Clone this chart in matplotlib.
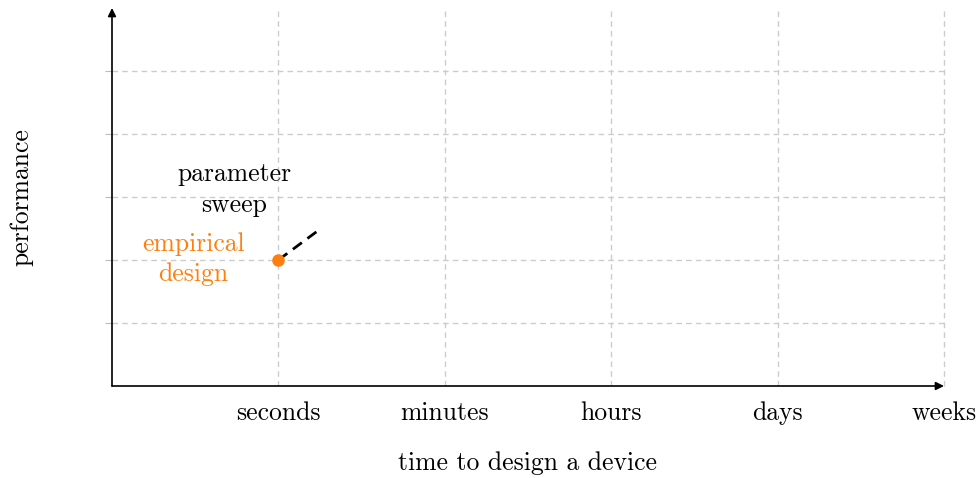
import matplotlib
matplotlib.use('Agg')
import matplotlib.pyplot as plt

# data
tick_pos = [1, 2, 3, 4, 5]
tick_labels = ['seconds', 'minutes', 'hours', 'days', 'weeks']
ygrid = [1, 2, 3, 4, 5]
emp_x, emp_y = [1.0], [2.0]
sweep_x = [1.0, 1.24]
sweep_y = [2.0, 2.47]

plt.rcParams['font.family'] = 'cmr10'
plt.rcParams['axes.formatter.use_mathtext'] = True
FS = 18.5

fig = plt.figure(figsize=(9.79, 4.78), dpi=100)
ax = fig.add_axes([112/979, 1-386/478, 832/979, 378/478])
ax.set_xlim(0, 5)
ax.set_ylim(0, 6)
for s in ax.spines.values():
    s.set_visible(False)

ax.set_xticks(tick_pos)
ax.set_xticklabels(tick_labels, fontsize=FS)
ax.set_yticks(ygrid)
ax.set_yticklabels([])
ax.tick_params(axis='x', length=0, pad=11)
ax.tick_params(axis='y', length=5, color='#bbbbbb')
ax.grid(True, color='#cccccc', linestyle=(0, (4, 3)), linewidth=1)
for gl in ax.get_xgridlines():
    gl.set_clip_on(False)

# axes arrows
ax.annotate('', xy=(5.0, 0), xytext=(0, 0), xycoords='data',
            arrowprops=dict(arrowstyle='-|>', color='black', lw=1.2,
                            mutation_scale=12, shrinkA=0, shrinkB=0),
            annotation_clip=False)
ax.annotate('', xy=(0, 6.0), xytext=(0, 0), xycoords='data',
            arrowprops=dict(arrowstyle='-|>', color='black', lw=1.2,
                            mutation_scale=12, shrinkA=0, shrinkB=0),
            annotation_clip=False)

ax.plot(sweep_x, sweep_y, color='black', linestyle=(0, (4, 2.5)), linewidth=2)
ax.plot(emp_x, emp_y, 'o', color='#ff7f0e', markersize=8, zorder=5)

ax.text(0.735, 3.12, 'parameter\nsweep', ha='center', va='center',
        fontsize=FS, linespacing=1.38)
ax.text(0.49, 2.01, 'empirical\ndesign', ha='center', va='center',
        fontsize=FS, color='#ff7f0e', linespacing=1.36)

ax.set_xlabel('time to design a device', fontsize=FS)
ax.xaxis.set_label_coords(0.5, (386-463)/378)
ax.xaxis.label.set_va('center')
ax.set_ylabel('performance', fontsize=FS)
ax.yaxis.set_label_coords((22-112)/832, 0.5)
ax.yaxis.label.set_va('center')

fig.savefig('out.png', dpi=100)
